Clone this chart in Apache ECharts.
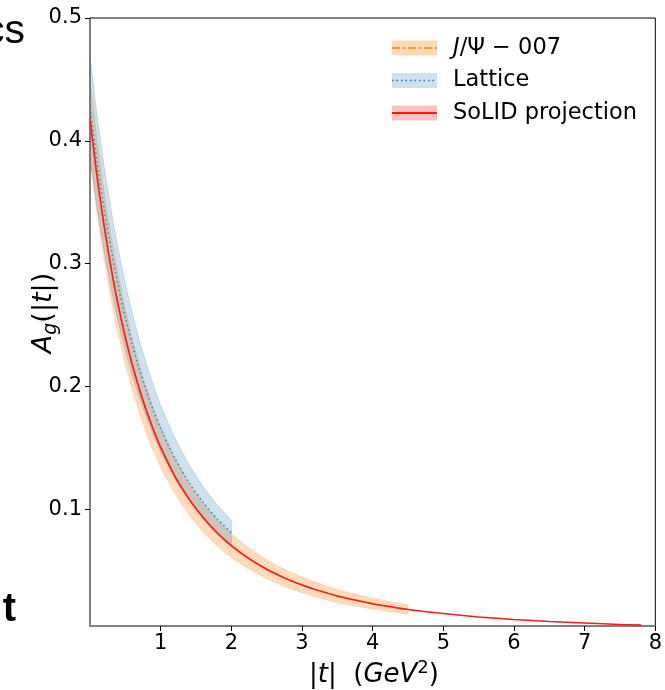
<!DOCTYPE html>
<html>
<head>
<meta charset="utf-8">
<script src="https://cdn.jsdelivr.net/npm/echarts@6/dist/echarts.min.js"></script>
<style>
  html, body { margin: 0; padding: 0; background: #fff; }
  #chart { width: 665px; height: 690px; }
</style>
</head>
<body>
<div id="chart"></div>
<script>
// Gluon gravitational form factor A_g(|t|)

// SoLID projection (central curve and narrow band), |t| in GeV^2
const tSolid = [0, 0.1, 0.2, 0.3, 0.4, 0.5, 0.6, 0.7, 0.8, 0.9, 1.0, 1.2, 1.4, 1.6, 1.8, 2.0,
  2.25, 2.5, 2.75, 3.0, 3.25, 3.5, 3.75, 4.0, 4.25, 4.5, 5.0, 5.5, 6.0, 6.5, 7.0, 7.5, 7.8];
const solidCentral = [0.418, 0.371, 0.331, 0.296, 0.266, 0.240, 0.2175, 0.1975, 0.180, 0.1644, 0.1505,
  0.127, 0.1085, 0.0933, 0.0807, 0.0704, 0.0598, 0.0512, 0.0442, 0.0384, 0.0336, 0.0295, 0.0261,
  0.0232, 0.0207, 0.0185, 0.0151, 0.0124, 0.0103, 0.0087, 0.0074, 0.0063, 0.0058];
const solidHi = [0.4243, 0.3766, 0.3360, 0.3004, 0.2700, 0.2436, 0.2208, 0.2005, 0.1827, 0.1669, 0.1528,
  0.1289, 0.1101, 0.0947, 0.0819, 0.0715, 0.0607, 0.0520, 0.0449, 0.0390, 0.0341, 0.0299, 0.0265,
  0.0235, 0.0210, 0.0188, 0.0153, 0.0126, 0.0105, 0.0088, 0.0075, 0.0064, 0.0059];
const solidLo = [0.4117, 0.3654, 0.3260, 0.2916, 0.2620, 0.2364, 0.2142, 0.1945, 0.1773, 0.1619, 0.1482,
  0.1251, 0.1069, 0.0919, 0.0795, 0.0693, 0.0589, 0.0504, 0.0435, 0.0378, 0.0331, 0.0291, 0.0257,
  0.0229, 0.0204, 0.0182, 0.0149, 0.0122, 0.0101, 0.0086, 0.0073, 0.0062, 0.0057];

// J/Psi-007 fit with its uncertainty band
const tJpsi = [0, 0.1, 0.2, 0.3, 0.4, 0.5, 0.6, 0.7, 0.8, 0.9, 1.0, 1.2, 1.4, 1.6, 1.8, 2.0,
  2.25, 2.5, 2.75, 3.0, 3.25, 3.5, 3.75, 4.0, 4.25, 4.5];
const jpsiCentral = [0.418, 0.371, 0.331, 0.296, 0.266, 0.240, 0.2175, 0.1975, 0.180, 0.1644, 0.1505,
  0.127, 0.1085, 0.0933, 0.0807, 0.0704, 0.0598, 0.0512, 0.0442, 0.0384, 0.0336, 0.0295, 0.0261,
  0.0232, 0.0207, 0.0185];
const jpsiHi = [0.4514, 0.4018, 0.3592, 0.3226, 0.2908, 0.2630, 0.2388, 0.2174, 0.1986, 0.1820, 0.1671,
  0.1420, 0.1217, 0.1052, 0.0915, 0.0803, 0.0686, 0.0591, 0.0514, 0.0449, 0.0396, 0.0350, 0.0311,
  0.0278, 0.0250, 0.0225];
const jpsiLo = [0.3846, 0.3402, 0.3024, 0.2698, 0.2418, 0.2174, 0.1962, 0.1776, 0.1612, 0.1468, 0.1339,
  0.1124, 0.0953, 0.0814, 0.0699, 0.0605, 0.0510, 0.0433, 0.0370, 0.0319, 0.0276, 0.0240, 0.0211,
  0.0186, 0.0164, 0.0145];

// Lattice QCD result with its band
const tLattice = [0, 0.1, 0.2, 0.3, 0.4, 0.5, 0.6, 0.7, 0.8, 0.9, 1.0, 1.2, 1.4, 1.6, 1.8, 2.0];
const latticeCentral = [0.427, 0.3829, 0.3446, 0.3113, 0.2821, 0.2565, 0.2339, 0.2138, 0.1960, 0.1801,
  0.1659, 0.1417, 0.1219, 0.1057, 0.0922, 0.0810];
const latticeHi = [0.468, 0.4205, 0.3792, 0.3432, 0.3116, 0.2837, 0.2591, 0.2372, 0.2178, 0.2004,
  0.1848, 0.1581, 0.1364, 0.1184, 0.1035, 0.0910];
const latticeLo = [0.386, 0.3452, 0.3100, 0.2793, 0.2526, 0.2292, 0.2086, 0.1904, 0.1743, 0.1599,
  0.1471, 0.1253, 0.1075, 0.0930, 0.0810, 0.0710];

// Tick positions
const xTicks = [1, 2, 3, 4, 5, 6, 7, 8];
const yTicks = [0.1, 0.2, 0.3, 0.4, 0.5];

const C_ORANGE = '#ff7f0e';
const C_BLUE = '#1f77b4';
const C_RED = '#ff1a1a';
const FONT = 'DejaVu Sans';

const chart = echarts.init(document.getElementById('chart'), null, { renderer: 'canvas' });

function pairs(t, v) { return t.map((x, i) => [x, v[i]]); }

// Filled band between lo and hi, drawn as one polygon through the axis scales
function band(name, t, lo, hi, fill, edge, z) {
  return {
    type: 'custom', name: name, z: z, silent: true,
    coordinateSystem: 'cartesian2d',
    encode: { x: 0, y: 1 },
    data: t.map((x, i) => [x, lo[i], hi[i]]),
    renderItem: function (params, api) {
      if (params.dataIndex !== 0) return null;
      const pts = [];
      for (let i = 0; i < t.length; i++) pts.push(api.coord([t[i], hi[i]]));
      for (let i = t.length - 1; i >= 0; i--) pts.push(api.coord([t[i], lo[i]]));
      return {
        type: 'polygon',
        shape: { points: pts },
        style: { fill: fill, stroke: edge, lineWidth: 1 }
      };
    }
  };
}

function curve(name, t, v, color, width, dash, z) {
  return {
    type: 'line', name: name, z: z, silent: true,
    data: pairs(t, v),
    showSymbol: false, smooth: 0.3,
    lineStyle: { color: color, width: width, type: dash },
    emphasis: { disabled: true }
  };
}

// Legend: band swatch, line sample and label per entry
const legendEntries = [
  { fill: 'rgba(255,127,14,0.3)', line: C_ORANGE, dash: [8, 3, 2, 3], width: 1.5,
    text: '{i|J}{n|/Ψ − 007}' },
  { fill: 'rgba(31,119,180,0.22)', line: C_BLUE, dash: [1.5, 3], width: 1.5,
    text: '{n|Lattice}' },
  { fill: 'rgba(255,0,0,0.25)', line: C_RED, dash: null, width: 1.8,
    text: '{n|SoLID projection}' }
];
const legendRich = {
  n: { fontFamily: FONT, fontSize: 22.5, color: '#000' },
  i: { fontFamily: FONT, fontSize: 22.5, fontStyle: 'italic', color: '#000' }
};
const legendGraphics = [];
legendEntries.forEach(function (e, k) {
  const cy = 48 + k * 32.5;
  legendGraphics.push({ type: 'rect', silent: true, z: 50,
    shape: { x: 392, y: cy - 7.5, width: 45, height: 15 }, style: { fill: e.fill } });
  legendGraphics.push({ type: 'line', silent: true, z: 51,
    shape: { x1: 392, y1: cy, x2: 437, y2: cy },
    style: { stroke: e.line, lineWidth: e.width, lineDash: e.dash } });
  legendGraphics.push({ type: 'text', silent: true, z: 51, x: 453, y: cy,
    style: { text: e.text, rich: legendRich, verticalAlign: 'middle', align: 'left' } });
});

const option = {
  animation: false,
  backgroundColor: '#fff',
  grid: { left: 90, right: 7, top: 18, bottom: 64, show: true,
    borderColor: '#000', borderWidth: 1, backgroundColor: 'transparent' },
  xAxis: {
    type: 'value', min: 0, max: 8,
    axisLine: { show: true, onZero: false, lineStyle: { color: '#808080', width: 1.6 } },
    axisTick: { show: true, inside: false, length: 5, customValues: xTicks,
      lineStyle: { color: '#000', width: 1 } },
    axisLabel: { customValues: xTicks, color: '#000', fontSize: 21, fontFamily: FONT, margin: 7 },
    splitLine: { show: false }
  },
  yAxis: {
    type: 'value', min: 0.005, max: 0.5,
    axisLine: { show: true, onZero: false, lineStyle: { color: '#808080', width: 1.6 } },
    axisTick: { show: true, inside: false, length: 5, customValues: yTicks,
      lineStyle: { color: '#000', width: 1 } },
    axisLabel: { customValues: yTicks, color: '#000', fontSize: 21, fontFamily: FONT, margin: 8,
      formatter: function (v) { return v.toFixed(1); } },
    splitLine: { show: false }
  },
  series: [
    band('J/Ψ−007 band', tJpsi, jpsiLo, jpsiHi, 'rgba(255,127,14,0.28)', 'rgba(255,127,14,0.12)', 1),
    band('Lattice band', tLattice, latticeLo, latticeHi, 'rgba(31,119,180,0.22)', 'rgba(31,119,180,0.2)', 2),
    band('SoLID band', tSolid, solidLo, solidHi, 'rgba(255,0,0,0.22)', 'rgba(255,0,0,0)', 3),
    curve('J/Ψ−007', tJpsi, jpsiCentral, C_ORANGE, 1.5, [8, 3, 2, 3], 4),
    curve('Lattice', tLattice, latticeCentral, '#3b86c2', 1.6, [1.5, 3], 5),
    curve('SoLID projection', tSolid, solidCentral, C_RED, 1.5, 'solid', 6)
  ],
  graphic: [
    // axis titles
    { type: 'text', silent: true, x: 374, y: 675,
      style: { text: '{n|\u007c}{i|t}{n|\u007c  (}{i|GeV}{s|2}{n|)}', align: 'center', verticalAlign: 'middle',
        rich: {
          n: { fontFamily: FONT, fontSize: 26, color: '#000', lineHeight: 32 },
          i: { fontFamily: FONT, fontSize: 26, fontStyle: 'italic', color: '#000', lineHeight: 32 },
          s: { fontFamily: FONT, fontSize: 18, color: '#000', lineHeight: 32, verticalAlign: 'top' }
        } } },
    { type: 'text', silent: true, x: 44, y: 313, rotation: Math.PI / 2,
      style: { text: '{i|A}{b|g}{n|(|}{i|t}{n||)}', align: 'center', verticalAlign: 'middle',
        rich: {
          n: { fontFamily: FONT, fontSize: 27, color: '#000', lineHeight: 34 },
          i: { fontFamily: FONT, fontSize: 27, fontStyle: 'italic', color: '#000', lineHeight: 34 },
          b: { fontFamily: FONT, fontSize: 19, fontStyle: 'italic', color: '#000', lineHeight: 34, verticalAlign: 'bottom' }
        } } },
    // neighbouring panel text at the left edge
    { type: 'text', silent: true, x: 25, y: 32,
      style: { text: 'cs', align: 'right', verticalAlign: 'middle',
        fontFamily: 'Liberation Sans', fontSize: 41, fill: '#000' } },
    { type: 'text', silent: true, x: 16, y: 610,
      style: { text: 't', align: 'right', verticalAlign: 'middle',
        fontFamily: 'Liberation Sans', fontWeight: 'bold', fontSize: 40, fill: '#000' } }
  ].concat(legendGraphics)
};

chart.setOption(option);
</script>
</body>
</html>
